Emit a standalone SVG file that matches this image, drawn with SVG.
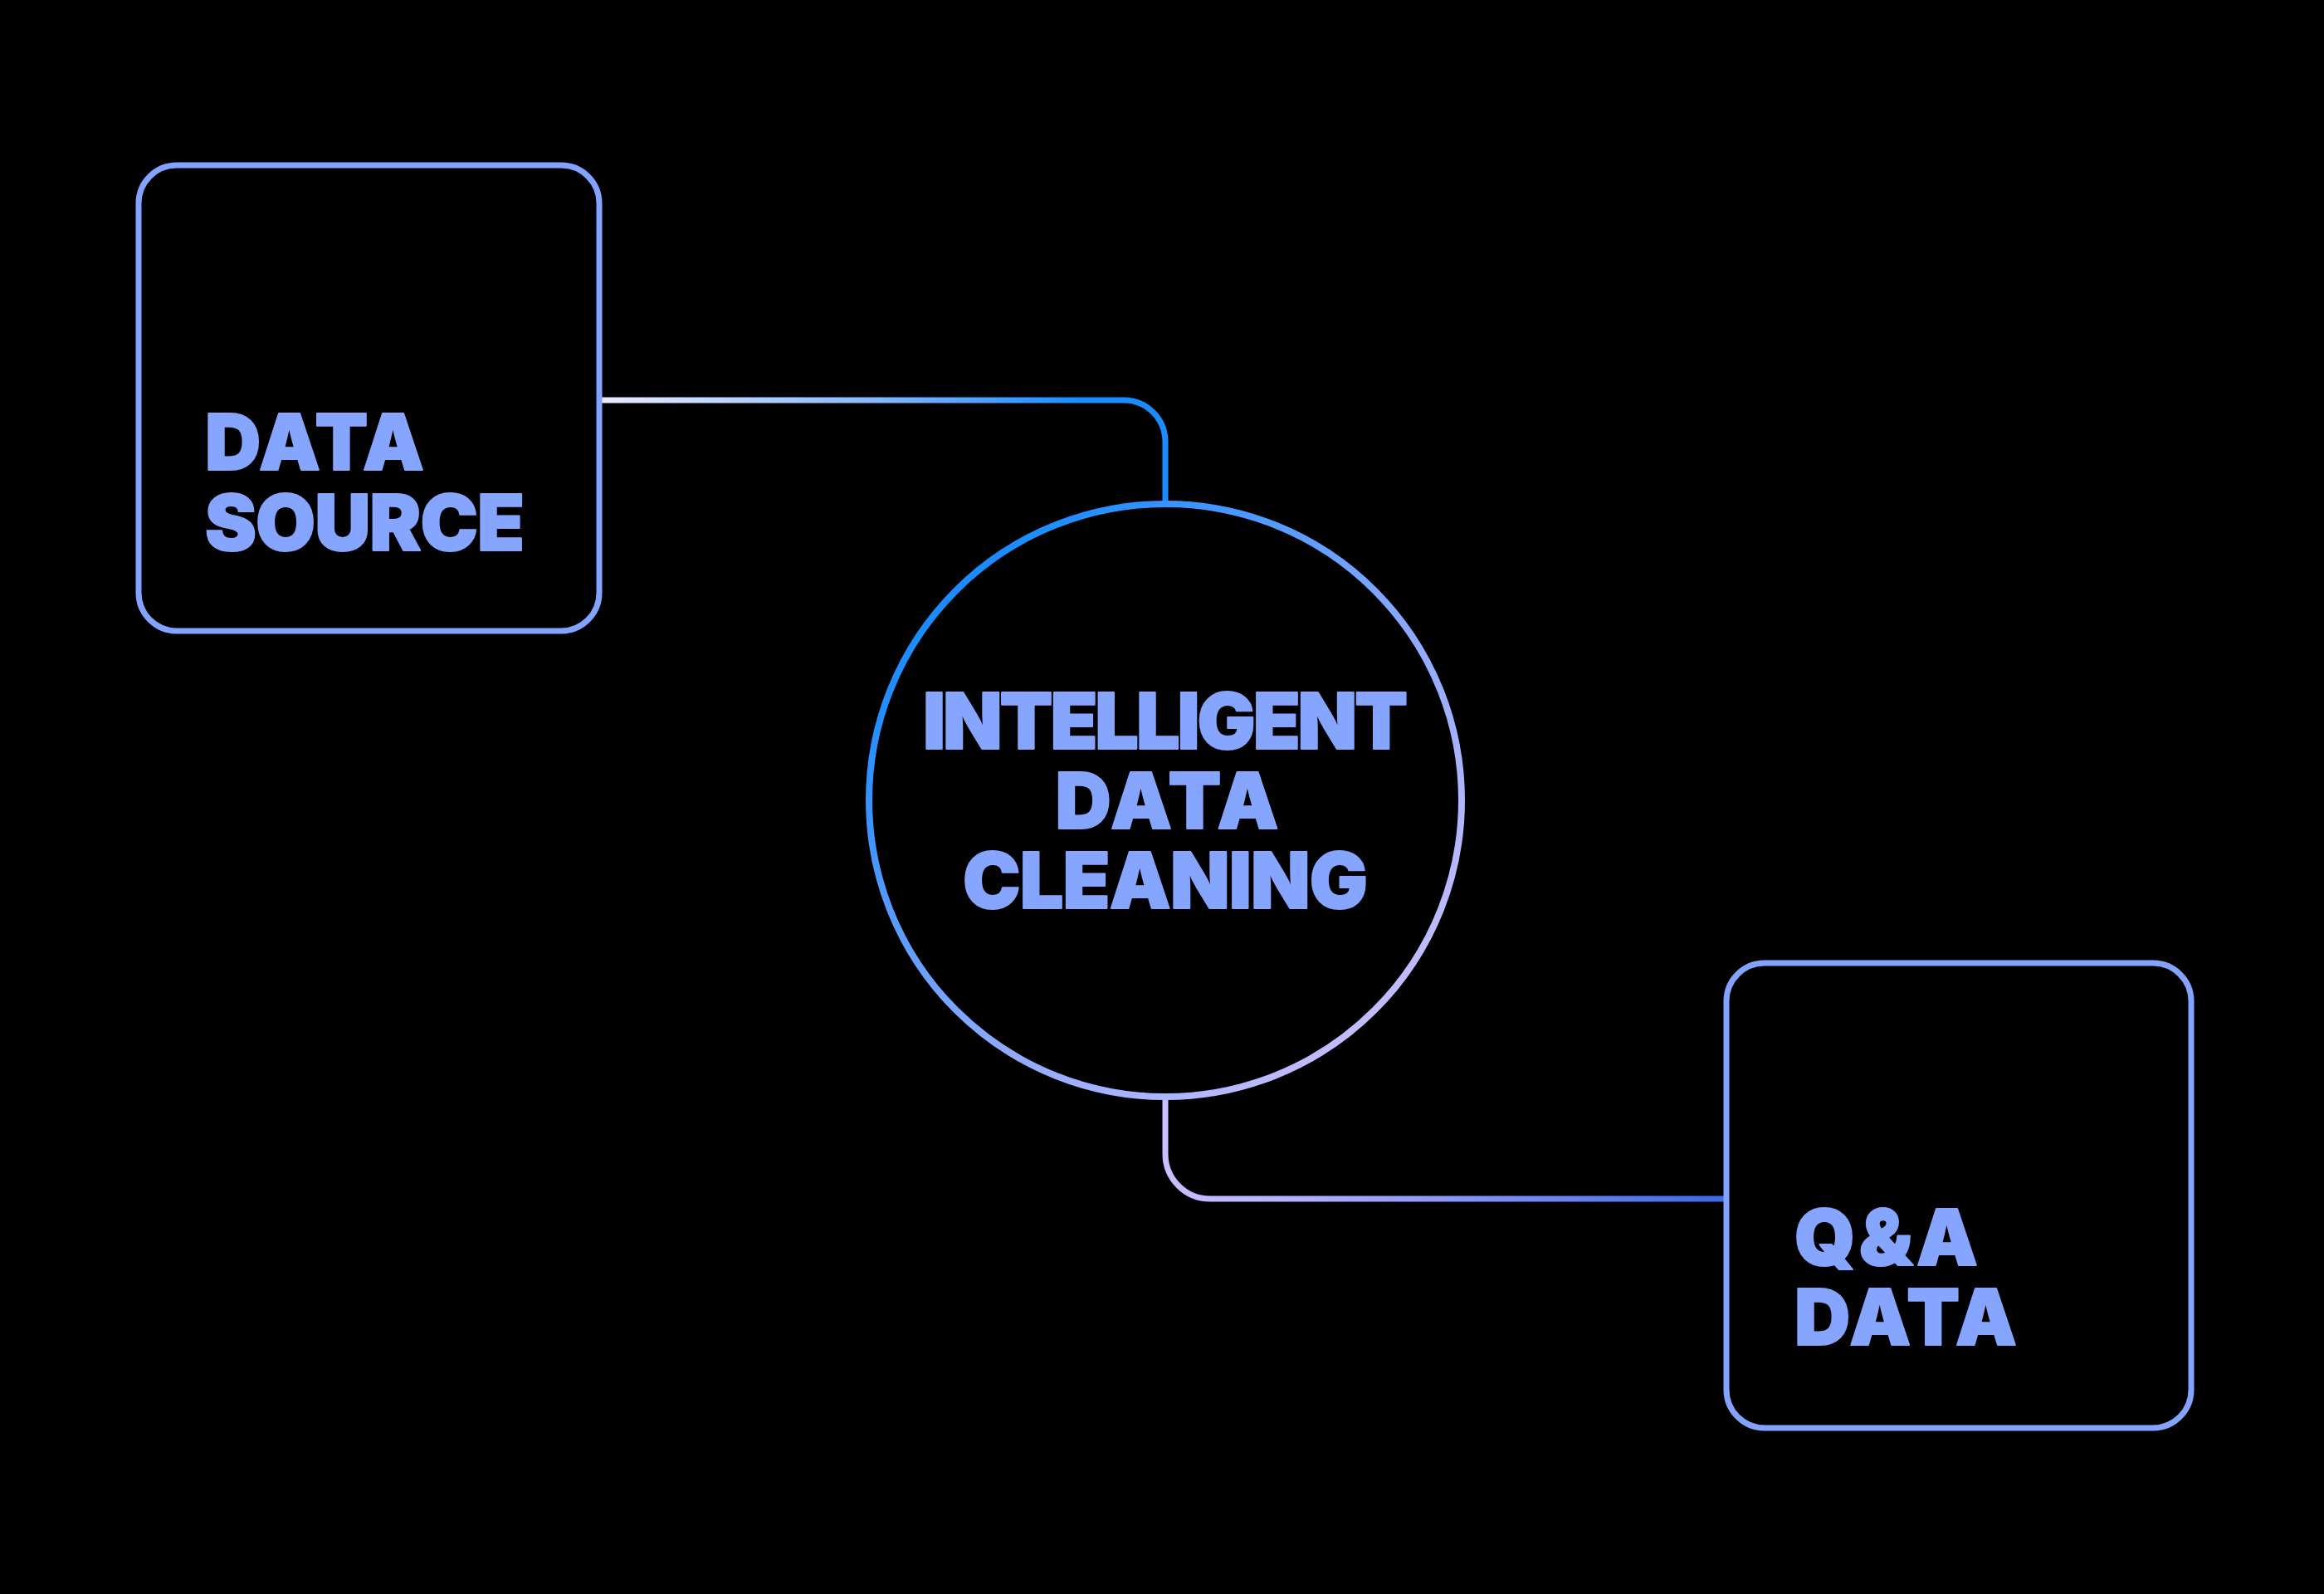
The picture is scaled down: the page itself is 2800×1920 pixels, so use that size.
<svg xmlns="http://www.w3.org/2000/svg" width="2800" height="1920" viewBox="0 0 2800 1920">
  <defs>
    <linearGradient id="gCircle" x1="0" y1="0" x2="1" y2="1">
      <stop offset="0.15" stop-color="#1a8cff"/>
      <stop offset="0.55" stop-color="#8aa8ff"/>
      <stop offset="0.9" stop-color="#c8bfff"/>
    </linearGradient>
    <linearGradient id="gLink1" gradientUnits="userSpaceOnUse" x1="722" y1="0" x2="1404" y2="0">
      <stop offset="0" stop-color="#ecebff"/>
      <stop offset="0.5" stop-color="#7fb8ff"/>
      <stop offset="0.85" stop-color="#1a8cff"/>
      <stop offset="1" stop-color="#1a8cff"/>
    </linearGradient>
    <linearGradient id="gLink2" gradientUnits="userSpaceOnUse" x1="1404" y1="0" x2="2080" y2="0">
      <stop offset="0" stop-color="#c8bfff"/>
      <stop offset="0.2" stop-color="#b8b2ff"/>
      <stop offset="1" stop-color="#3d68e6"/>
    </linearGradient>
    <style>
      .box { fill: none; stroke: #82a3ff; stroke-width: 7; }
      .lbl { font-family: Inter, "Liberation Sans", sans-serif; font-weight: 900; font-size: 93px; fill: #85a5ff; stroke: #85a5ff; stroke-width: 2; stroke-linejoin: round; }
      .link { fill: none; stroke-width: 7; }
    </style>
  </defs>
  <rect width="2800" height="1920" fill="#000000"/>

  <g id="connectors">
    <path class="link" stroke="url(#gLink1)" d="M 722 482 H 1354 A 50 50 0 0 1 1404 532 V 607"/>
    <path class="link" stroke="url(#gLink2)" d="M 1404 1321 V 1390 A 54 54 0 0 0 1458 1444 H 2080"/>
  </g>

  <g id="node-data-source">
    <rect class="box" x="167" y="199" width="555" height="561" rx="46" ry="46"/>
    <text class="lbl" x="247" y="566" textLength="264" lengthAdjust="spacing">DATA</text>
    <text class="lbl" x="247" y="663" textLength="385" lengthAdjust="spacing">SOURCE</text>
  </g>

  <g id="node-intelligent-data-cleaning">
    <circle cx="1404" cy="964" r="357" fill="none" stroke="url(#gCircle)" stroke-width="8"/>
    <text class="lbl" x="1404" y="902" text-anchor="middle" textLength="584" lengthAdjust="spacing">INTELLIGENT</text>
    <text class="lbl" x="1406" y="998" text-anchor="middle" textLength="269" lengthAdjust="spacing">DATA</text>
    <text class="lbl" x="1404" y="1094" text-anchor="middle" textLength="488" lengthAdjust="spacing">CLEANING</text>
  </g>

  <g id="node-qa-data">
    <rect class="box" x="2080" y="1160" width="560" height="560" rx="46" ry="46"/>
    <text class="lbl" x="2162" y="1524" textLength="221" lengthAdjust="spacing">Q&amp;A</text>
    <text class="lbl" x="2162" y="1620" textLength="268" lengthAdjust="spacing">DATA</text>
  </g>
</svg>
